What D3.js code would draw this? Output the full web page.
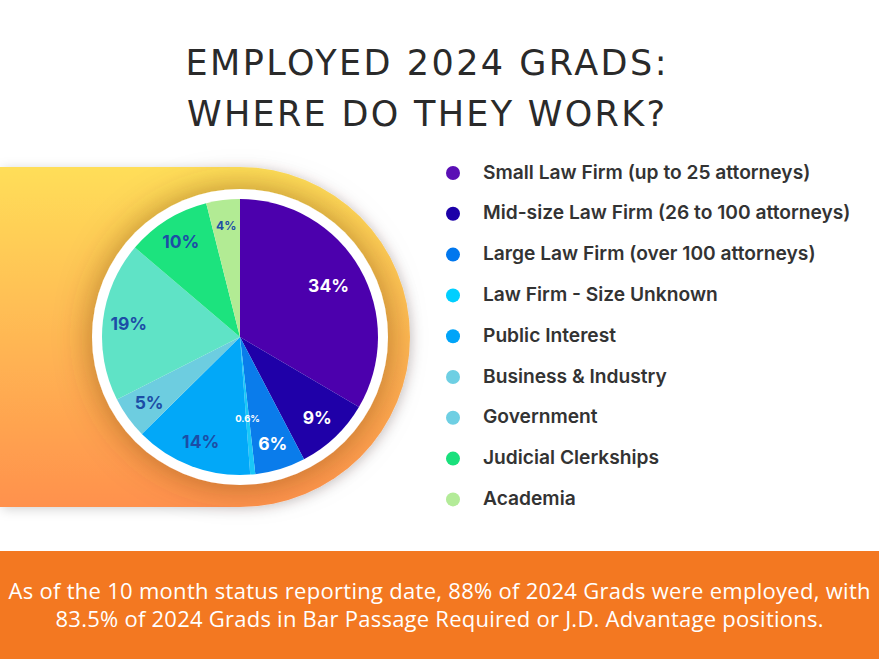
<!DOCTYPE html>
<html>
<head>
<meta charset="utf-8">
<script src="https://cdn.jsdelivr.net/npm/d3@7"></script>
<style>
  body { margin: 0; background: #fff; }
  svg { display: block; }
</style>
</head>
<body>
<svg id="chart"></svg>
<script>
const categories = [
    "Small Law Firm (up to 25 attorneys)",
    "Mid-size Law Firm (26 to 100 attorneys)",
    "Large Law Firm (over 100 attorneys)",
    "Law Firm - Size Unknown",
    "Public Interest",
    "Business & Industry",
    "Government",
    "Judicial Clerkships",
    "Academia"
];
const shares = [34, 9, 6, 0.6, 14, 5, 19, 10, 4];
const shareLabels = ["34%", "9%", "6%", "0.6%", "14%", "5%", "19%", "10%", "4%"];

const titleLines = ["EMPLOYED 2024 GRADS:", "WHERE DO THEY WORK?"];
const footerLines = [
    "As of the 10 month status reporting date, 88% of 2024 Grads were employed, with",
    "83.5% of 2024 Grads in Bar Passage Required or J.D. Advantage positions."
];

// colours
const sliceColors = ["#4c00ad", "#1f00a8", "#0a7ceb", "#19c8f8", "#02a8f8", "#6dcde0", "#5fe3c6", "#1ce37e", "#b2eb94"];
const legendColors = ["#5a0fb5", "#1c00a8", "#0077ee", "#00cfff", "#00a4f8", "#6ecfe3", "#6ecfe3", "#19e07c", "#b3eb98"];
const labelColors = ["#fff", "#fff", "#fff", "#fff", "#1c4da6", "#1c4da6", "#1c4da6", "#1c4da6", "#1c4da6"];

const width = 879, height = 659;
const cx = 240, cy = 337, radius = 138;

const svg = d3.select("#chart")
    .attr("width", width)
    .attr("height", height);

const defs = svg.append("defs");

let bannerGrad = defs.append("linearGradient")
    .attr("id", "bannerGrad")
    .attr("x1", 0).attr("y1", 0).attr("x2", 0).attr("y2", 1);
bannerGrad.append("stop").attr("offset", "0%").attr("stop-color", "#ffde59");
bannerGrad.append("stop").attr("offset", "100%").attr("stop-color", "#ff914d");

defs.append("filter")
    .attr("id", "bannerShadow")
    .attr("x", "-20%").attr("y", "-20%").attr("width", "140%").attr("height", "140%")
    .append("feDropShadow")
        .attr("dx", 2).attr("dy", 2)
        .attr("stdDeviation", 6)
        .attr("flood-color", "#000")
        .attr("flood-opacity", 0.18);

defs.append("filter")
    .attr("id", "ringShadow")
    .attr("x", "-40%").attr("y", "-40%").attr("width", "180%").attr("height", "180%")
    .append("feDropShadow")
        .attr("dx", 0).attr("dy", 0)
        .attr("stdDeviation", 17)
        .attr("flood-color", "#6a3a00")
        .attr("flood-opacity", 0.5);

// rounded orange banner behind the pie
const bannerR = 170;
svg.append("path")
    .attr("d", `M0,${cy - bannerR} H${cx} A${bannerR},${bannerR} 0 0 1 ${cx},${cy + bannerR} H0 Z`)
    .attr("fill", "url(#bannerGrad)")
    .attr("filter", "url(#bannerShadow)");

// white ring
svg.append("circle")
    .attr("cx", cx).attr("cy", cy)
    .attr("r", radius + 10)
    .attr("fill", "#fff")
    .attr("filter", "url(#ringShadow)");

const pie = d3.pie().sort(null).value(d => d);
const arcs = pie(shares);

const arc = d3.arc().innerRadius(0).outerRadius(radius);
const labelRadius = d => d.value < 1 ? 82 : (d.value > 30 ? 102 : 112);
const labelArc = d3.arc()
    .innerRadius(labelRadius)
    .outerRadius(labelRadius);

const pieGroup = svg.append("g")
    .attr("transform", `translate(${cx},${cy})`);

pieGroup.selectAll(".slice")
    .data(arcs)
    .enter()
    .append("path")
        .classed("slice", true)
        .attr("d", arc)
        .attr("fill", (d, i) => sliceColors[i]);

pieGroup.selectAll(".slice-label")
    .data(arcs)
    .enter()
    .append("text")
        .classed("slice-label", true)
        .attr("transform", d => `translate(${labelArc.centroid(d)})`)
        .attr("dy", "0.35em")
        .attr("text-anchor", "middle")
        .attr("font-family", "Inter, 'Noto Sans', sans-serif")
        .attr("font-weight", 700)
        .attr("font-size", d => d.value < 1 ? 9.5 : (d.value < 5 ? 12 : 17.5))
        .attr("fill", (d, i) => labelColors[i])
        .text((d, i) => shareLabels[i]);

// title
svg.selectAll(".title-line")
    .data(titleLines)
    .enter()
    .append("text")
        .classed("title-line", true)
        .attr("x", 426)
        .attr("y", (d, i) => 75 + i * 51)
        .attr("text-anchor", "middle")
        .attr("font-family", "'DejaVu Sans', sans-serif")
        .attr("font-weight", 400)
        .attr("font-size", 35)
        .attr("fill", "#2a2a2a")
        .attr("textLength", (d, i) => i === 0 ? 481 : 478)
        .attr("lengthAdjust", "spacing")
        .text(d => d);

// legend
const legend = svg.append("g")
    .attr("transform", "translate(453,173)");

let legendItems = legend.selectAll(".legend-item")
    .data(categories)
    .enter()
    .append("g")
        .classed("legend-item", true)
        .attr("transform", (d, i) => `translate(0, ${i * 40.8})`);

legendItems.append("circle")
    .attr("r", 7)
    .attr("fill", (d, i) => legendColors[i]);

legendItems.append("text")
    .attr("x", 30)
    .attr("y", 5.5)
    .attr("font-family", "Inter, 'Noto Sans', sans-serif")
    .attr("font-weight", 600)
    .attr("font-size", 19.2)
    .attr("fill", "#333")
    .text(d => d);

// footer
svg.append("rect")
    .attr("x", 0).attr("y", 551)
    .attr("width", width).attr("height", height - 551)
    .attr("fill", "#f37821");

svg.selectAll(".footer-line")
    .data(footerLines)
    .enter()
    .append("text")
        .classed("footer-line", true)
        .attr("x", width / 2)
        .attr("y", (d, i) => 599 + i * 28)
        .attr("text-anchor", "middle")
        .attr("font-family", "'Open Sans', sans-serif")
        .attr("font-size", 22)
        .attr("fill", "#fff")
        .attr("textLength", (d, i) => i === 0 ? 862 : 768)
        .attr("lengthAdjust", "spacing")
        .text(d => d);
</script>
</body>
</html>
